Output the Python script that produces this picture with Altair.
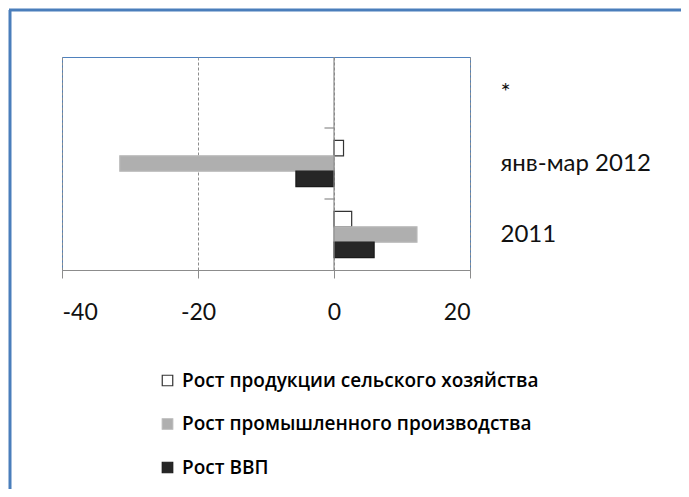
import altair as alt
import pandas as pd

categories = ["*", "янв-мар 2012", "2011"]
series = ["Рост продукции сельского хозяйства", "Рост промышленного производства", "Рост ВВП"]
agri = [None, 1.4, 2.6]
industry = [None, -31.5, 12.2]
gdp = [None, -5.6, 5.9]
x_ticks = [-40, -20, 0, 20]

fills = ["#ffffff", "#afafaf", "#262626"]
strokes = ["#333333", "#b8b8b8", "#1a1a1a"]

rows = []
for s, vals in zip(series, [agri, industry, gdp]):
    for c, v in zip(categories, vals):
        if v is not None:
            rows.append({"cat": c, "series": s, "value": v})
df = pd.DataFrame(rows)

W, H = 408, 213
PAD = {"left": 54, "top": 49, "right": 211, "bottom": 219}
FONT = "Lato"

y_scale = alt.Scale(domain=categories, paddingInner=0, paddingOuter=0)
x_scale = alt.Scale(domain=[-40, 20], nice=False, zero=False)

y_axis = alt.Axis(orient="right", title=None, domain=False, ticks=False, grid=False,
                  labelPadding=30, labelAlign="left", labelFontSize=24, labelFont=FONT,
                  labelColor="#111111", labelLimit=400)
x_axis = alt.Axis(values=x_ticks, title=None, grid=True, gridDash=[3, 2], gridColor="#8c8c8c",
                  domainColor="#8c8c8c", tickColor="#8c8c8c", tickSize=8,
                  labelExpr="'' + datum.value",
                  labelFontSize=23, labelFont=FONT, labelColor="#111111", labelPadding=23)

legend = alt.Legend(title=None, orient="none", legendX=96, legendY=314, direction="vertical",
                    symbolType="square", symbolSize=110, labelFontSize=19, labelFont="Open Sans",
                    labelFontWeight=600,
                    labelColor="#000000", labelLimit=500, rowPadding=23.5, symbolStrokeWidth=1.2,
                    labelOffset=5)

bars = alt.Chart(df).mark_bar(strokeWidth=1.2).encode(
    y=alt.Y("cat:N", scale=y_scale, sort=categories, axis=y_axis),
    x=alt.X("value:Q", scale=x_scale, axis=x_axis),
    yOffset=alt.YOffset("series:N", sort=series,
                        scale=alt.Scale(domain=series, paddingInner=0, paddingOuter=0.8)),
    fill=alt.Fill("series:N", scale=alt.Scale(domain=series, range=fills), legend=legend),
    stroke=alt.Stroke("series:N", scale=alt.Scale(domain=series, range=strokes), legend=legend),
)

zero_df = pd.DataFrame({"x": [0]})
zero_rule = alt.Chart(zero_df).mark_rule(color="#8c8c8c", strokeWidth=1.2).encode(
    x=alt.X("x:Q", scale=x_scale, axis=x_axis)
)

tick_df = pd.DataFrame({"cat": categories[1:], "x0": [0, 0], "x1": [-1.4, -1.4]})
cat_ticks = alt.Chart(tick_df).mark_rule(color="#8c8c8c", strokeWidth=1.2).encode(
    y=alt.Y("cat:N", scale=y_scale, sort=categories, axis=y_axis, bandPosition=0),
    x=alt.X("x0:Q", scale=x_scale, axis=x_axis),
    x2="x1:Q",
)

frame_df = pd.DataFrame({"k": [0]})
frame_left = alt.Chart(frame_df).mark_rule(color="#4a7ebb", strokeWidth=3).encode(
    x=alt.value(-52), y=alt.value(-47), y2=alt.value(H + PAD["bottom"] + 2)
)
frame_top = alt.Chart(frame_df).mark_rule(color="#4a7ebb", strokeWidth=3).encode(
    x=alt.value(-53), x2=alt.value(W + PAD["right"] + 2), y=alt.value(-47)
)

chart = alt.layer(bars, zero_rule, cat_ticks, frame_left, frame_top).properties(
    width=W, height=H, padding=PAD, autosize=alt.AutoSizeParams(type="none"),
    background="white",
).configure_view(stroke="#4f81bd", strokeWidth=1)

chart.save("out.html", embed_options={"renderer": "svg", "actions": False})
